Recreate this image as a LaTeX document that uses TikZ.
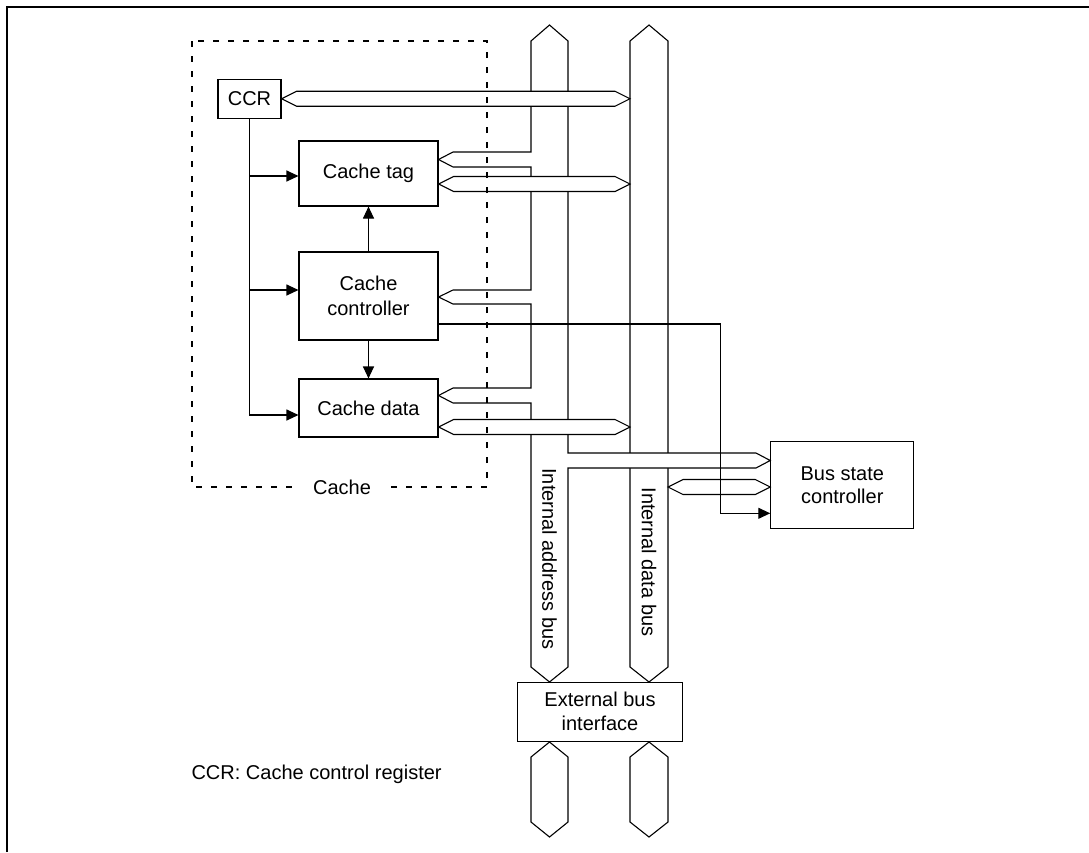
\documentclass[tikz,border=0pt]{standalone}
\usepackage{fontspec}
\setmainfont{Liberation Sans}
\usetikzlibrary{arrows.meta,calc}

% hollow two-way bus arrow from left point #1 to right point #2
\newcommand{\busarrow}[2]{%
  \draw[bus] (#1) -- ($(#1)+(15,-7.5)$) -- ($(#2)+(-15,-7.5)$) -- (#2)
    -- ($(#2)+(-15,7.5)$) -- ($(#1)+(15,7.5)$) -- cycle;}

\begin{document}
\begin{tikzpicture}[x=1pt, y=-1pt, line width=1.1pt, font=\fontsize{20}{24}\selectfont,
	box/.style={draw=black, text=black, shape=rectangle, align=center, inner sep=0pt},
	bus/.style={draw=black, fill=white, line join=miter},
	tri/.style={-{Triangle[length=12pt,width=11pt]}}]
	\useasboundingbox (0,0) rectangle (1089,852);
	\draw (7,852) -- (7,7) -- (1089,7);

	\node[box, minimum width=63pt, minimum height=39pt] (ccr) at (249.5,98.75) {CCR};
	\node[box, minimum width=139pt, minimum height=65pt] (tag) at (368.5,173.5) {Cache tag};
	\node[box, minimum width=139pt, minimum height=88pt, font=\fontsize{20}{25}\selectfont] (ctrl) at (368.5,296) {Cache\\controller};
	\node[box, minimum width=139pt, minimum height=58pt] (cdata) at (368.5,408) {Cache data};
	\node[box, minimum width=143pt, minimum height=87pt, font=\fontsize{20}{23}\selectfont] (bsc) at (842.3,485) {Bus state\\controller};
	\node[box, minimum width=165pt, minimum height=59pt] (ebi) at (600,711.7) {External bus\\interface};

	\coordinate (dbl) at (630,0);
	\coordinate (dbr) at (668,0);

	% internal data bus
	\draw[bus] (630,41) -- (649,25) -- (668,41) -- (668,667) -- (649,682) -- (630,667) -- cycle;
	% internal address bus with its taps
	\draw[bus] (531,152) -- (531,41) -- (549.5,25) -- (568,41) -- (568,453) -- (756,453)
		-- ([yshift=24.5pt]bsc.west) -- (756,468) -- (568,468) -- (568,667) -- (549.5,682)
		-- (531,667) -- (531,403) -- (453,403) -- ([yshift=12.5pt]cdata.east) -- (453,388)
		-- (531,388) -- (531,304) -- (453,304) -- ([yshift=-1pt]ctrl.east) -- (453,290)
		-- (531,290) -- (531,167) -- (453,167) -- ([yshift=14pt]tag.east) -- (453,152) -- cycle;
	% external buses
	\draw[bus] (549.5,742) -- (568,757) -- (568,822) -- (549.5,837) -- (531,822) -- (531,757) -- cycle;
	\draw[bus] (649,742) -- (668,757) -- (668,822) -- (649,837) -- (630,822) -- (630,757) -- cycle;

	\coordinate (t_d) at ([yshift=-10.5pt]tag.east);
	\coordinate (d_d) at ([yshift=-19pt]cdata.east);
	\coordinate (b_d) at ([yshift=-2pt]bsc.west);
	\busarrow{ccr.east}{ccr.east -| dbl}
	\busarrow{t_d}{t_d -| dbl}
	\busarrow{d_d}{d_d -| dbl}
	\busarrow{b_d -| dbr}{b_d}

	\draw[dash pattern=on 6pt off 9pt] (192,41) rectangle (487,487);
	\node[fill=white, inner xsep=14pt, inner ysep=4pt] (cachelbl) at (342,487) {Cache};

	\coordinate (t_i) at ([yshift=-2.5pt]tag.west);
	\coordinate (c_i) at ([yshift=6pt]ctrl.west);
	\coordinate (d_i) at ([yshift=-7pt]cdata.west);
	\draw[tri] (ccr.south) |- (d_i);
	\draw[tri] (t_i -| ccr.south) -- (t_i);
	\draw[tri] (c_i -| ccr.south) -- (c_i);
	\draw[tri] (ctrl.north) -- (tag.south);
	\draw[tri] (ctrl.south) -- (cdata.north);

	\coordinate (c_o) at ([yshift=-28pt]ctrl.east);
	\coordinate (b_i) at ([yshift=-28.3pt]bsc.west);
	\draw[tri] (c_o) -| ($(b_i)+(-50,0)$) -- (b_i);

	\node[rotate=-90] (abuslbl) at (549.5,559) {Internal address bus};
	\node[rotate=-90] (dbuslbl) at (649,562) {Internal data bus};
	\node[anchor=west, inner sep=0pt] (note) at (191,774) {CCR: Cache control register};
\end{tikzpicture}
\end{document}
